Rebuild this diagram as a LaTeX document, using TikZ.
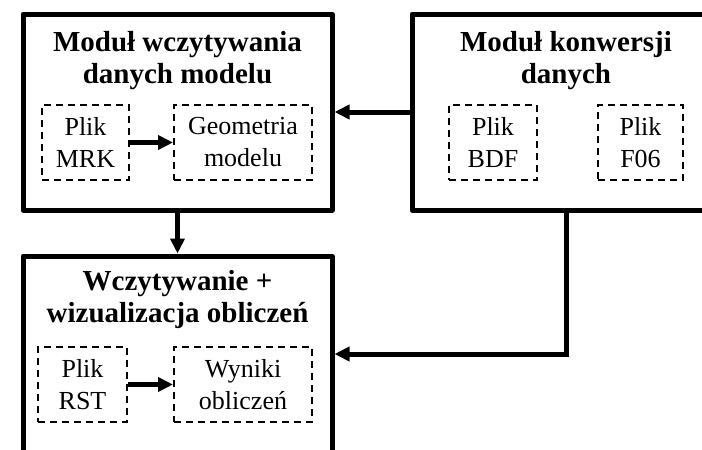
\documentclass[tikz,border=0pt]{standalone}
\usepackage{fontspec}
\setmainfont{Liberation Serif}
\usetikzlibrary{arrows.meta}

\tikzset{every picture/.style={line width=0.35pt}}
\tikzset{
  modul/.style={draw, line width=5pt, line join=round, minimum width=309pt, minimum height=196pt, inner sep=0pt},
  tytul/.style={font=\fontsize{29}{32}\selectfont\bfseries, align=center},
  plik/.style={draw, dash pattern=on 7pt off 5pt, line width=2pt, minimum height=75pt, inner sep=0pt, align=center, font=\fontsize{26}{32}\selectfont},
  strzalka/.style={-{Triangle[length=15pt,width=14pt]}, line width=5pt}
}

\begin{document}
\begin{tikzpicture}[x=1pt,y=1pt,yscale=-1]
  \useasboundingbox (0,0) rectangle (702,450);

  % moduly
  \node [modul] (wczyt) at (177.5,112) {};
  \node [modul, minimum width=308pt] (konw) at (566,112) {};
  \node [modul] (wizual) at (177.5,354) {};

  \node [tytul] (wczytT) at (177.5,61) {Moduł wczytywania\\danych modelu};
  \node [tytul] (konwT) at (566,61) {Moduł konwersji\\danych};
  \node [tytul] (wizualT) at (177.5,300) {Wczytywanie +\\wizualizacja obliczeń};

  % pliki
  \node [plik, minimum width=87pt] (mrk) at (85.5,142.5) {Plik\\MRK};
  \node [plik, minimum width=138pt] (geom) at (243,142.5) {Geometria\\modelu};
  \node [plik, minimum width=88pt] (bdf) at (493,142.5) {Plik\\BDF};
  \node [plik, minimum width=85pt] (fzero) at (640.5,142.5) {Plik\\F06};
  \node [plik, minimum width=89pt] (rst) at (82.5,384.5) {Plik\\RST};
  \node [plik, minimum width=138pt] (wyniki) at (243,384.5) {Wyniki\\obliczeń};

  % strzalki
  \draw [strzalka] (mrk.east) -- (geom.west);
  \draw [strzalka] (rst.east) -- (wyniki.west);
  \draw [strzalka] (konw.west) -- (wczyt.east);
  \draw [strzalka] (wczyt.south) -- (wizual.north);
  \draw [strzalka] (konw.south) |- (wizual.east);

\end{tikzpicture}
\end{document}
